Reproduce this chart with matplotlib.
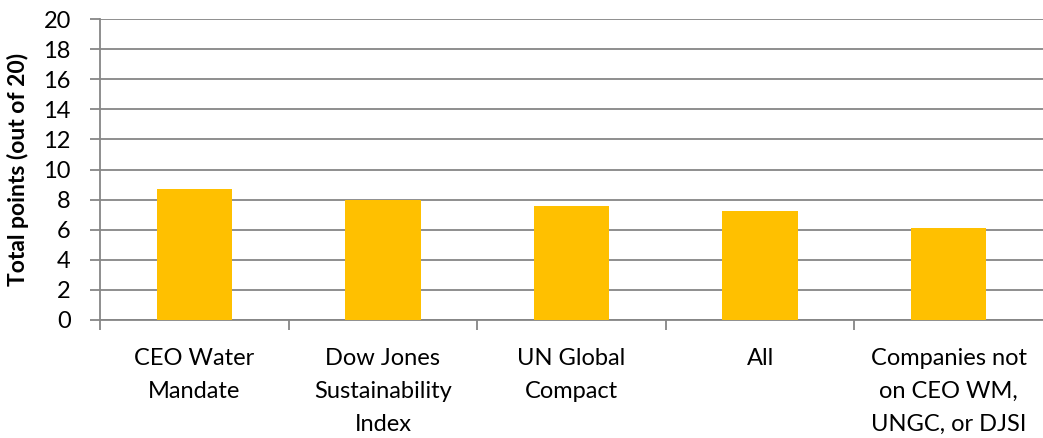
import matplotlib.pyplot as plt
import numpy as np

categories = ["CEO Water\nMandate", "Dow Jones\nSustainability\nIndex", "UN Global\nCompact",
              "All", "Companies not\non CEO WM,\nUNGC, or DJSI"]
points = [8.72, 7.96, 7.60, 7.26, 6.12]
y_ticks = list(range(0, 21, 2))

plt.rcParams['font.family'] = ['Lato', 'DejaVu Sans']

fig = plt.figure(figsize=(10.43, 4.38), dpi=100)
ax = fig.add_axes([100 / 1043, (438 - 320) / 438, 943 / 1043, 301 / 438])

x = np.arange(len(categories))
ax.bar(x, points, width=0.4, color='#FFC000', zorder=3)

ax.set_xlim(-0.5, len(categories) - 0.5)
ax.set_ylim(0, 20)
ax.set_yticks(y_ticks)
ax.yaxis.grid(True, color='#868686', linewidth=1.3, zorder=0)

for s in ['top', 'right']:
    ax.spines[s].set_visible(False)
for s in ['left', 'bottom']:
    ax.spines[s].set_color('#868686')
    ax.spines[s].set_linewidth(1.3)

ax.set_xticks(x)
ax.set_xticklabels(categories, fontsize=17, linespacing=1.7, va='top')
ax.set_xticks(np.arange(-0.5, len(categories) - 0.5, 1), minor=True)
ax.tick_params(axis='x', which='major', length=0, pad=20)
ax.tick_params(axis='x', which='minor', length=7, color='#868686', width=1.3)
ax.tick_params(axis='y', length=7, color='#868686', width=1.3, labelsize=17, pad=14)

ax.set_ylabel('Total points (out of 20)', fontsize=16.5, fontweight='bold', labelpad=10)

fig.savefig('out.png', dpi=100)
